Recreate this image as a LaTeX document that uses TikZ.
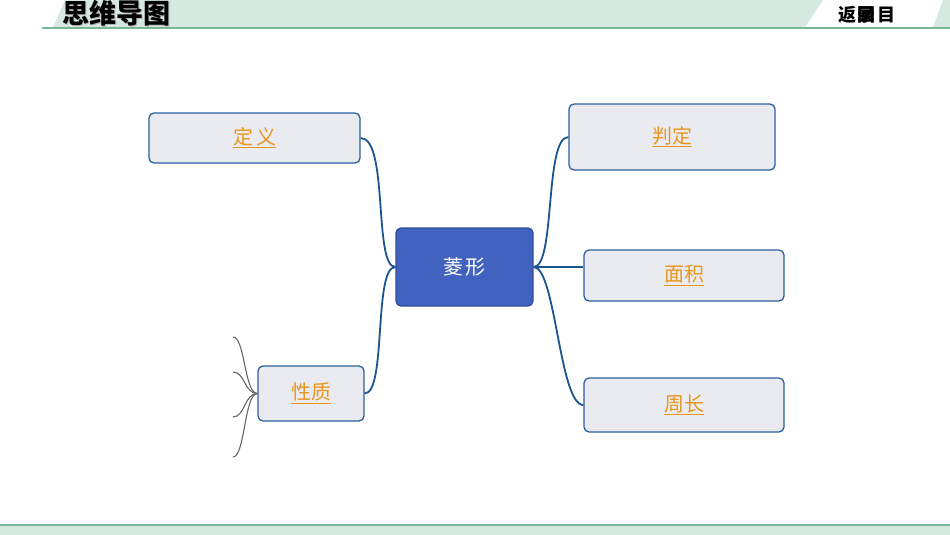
\documentclass[tikz,border=0pt]{standalone}
\usepackage{fontspec}
\newfontfamily\cjk{Noto Sans CJK SC}
\definecolor{hdr}{HTML}{D5E9E0}
\definecolor{hdrline}{HTML}{78B697}
\definecolor{boxfill}{HTML}{EAEBF1}
\definecolor{boxline}{HTML}{2A5F9C}
\definecolor{ctrfill}{HTML}{4262BF}
\definecolor{ctrline}{HTML}{2D4E9C}
\definecolor{conn}{HTML}{1B5590}
\definecolor{ortext}{HTML}{E8961C}
\definecolor{bracec}{HTML}{666666}
\newcommand\myul[1]{\setbox0\hbox{#1}\leavevmode\rlap{\color{ortext}\rule[-4pt]{\wd0}{1.2pt}}\box0}
\tikzset{
  topic/.style={draw=boxline, line width=1.3pt, fill=boxfill, rounded corners=5pt,
    inner sep=0pt, text=ortext, font=\cjk\fontsize{20}{24}\selectfont},
  center/.style={draw=ctrline, line width=1.3pt, fill=ctrfill, rounded corners=5pt,
    inner sep=0pt, text=white, font=\cjk\fontsize{20}{24}\selectfont},
  link/.style={draw=conn, line width=1.8pt},
  bracel/.style={draw=bracec, line width=1.1pt},
  hdrtext/.style={font=\cjk\bfseries\fontsize{18}{20}\selectfont, inner sep=0pt}
}
\begin{document}
\begin{tikzpicture}[x=1pt,y=-1pt]
\useasboundingbox (0,0) rectangle (950,535);
% header
\fill[hdr] (53,27) -- (65,0) -- (823,0) -- (805,27) -- cycle;
\fill[hdr] (933,27) -- (943,0) -- (950,0) -- (950,27) -- cycle;
\draw[hdrline, line width=2pt] (42,28.5) -- (950,28.5);
\node[font=\cjk\bfseries\fontsize{27}{29}\selectfont, text=gray!60, inner sep=0pt] (titsh) at (117.5,14) {思维导图};
\node[font=\cjk\bfseries\fontsize{27}{29}\selectfont, inner sep=0pt] (tit) at (116,13) {思维导图};
\node[hdrtext] (r1) at (847,15) {返};
\node[hdrtext] (r2) at (866,15) {回};
\node[hdrtext] (r3) at (866,15) {录};
\node[hdrtext] (r4) at (886,15) {目};
% footer
\fill[hdr] (0,525) rectangle (950,535);
\draw[hdrline, line width=2pt] (0,524.5) -- (950,524.5);
% nodes
\node[topic, minimum width=211pt, minimum height=50pt] (dy) at (254.5,138) {\myul{定\hspace{3pt}义}};
\node[topic, minimum width=206pt, minimum height=66pt] (pd) at (672,137) {\myul{判定}};
\node[center, minimum width=137pt, minimum height=78pt] (lx) at (464.5,267) {菱\hspace{2pt}形};
\node[topic, minimum width=200pt, minimum height=51pt] (mj) at (684,275.5) {\myul{面积}};
\node[topic, minimum width=200pt, minimum height=54pt] (zc) at (684,405) {\myul{周长}};
\node[topic, minimum width=106pt, minimum height=55pt] (xz) at (311,393.5) {\myul{性质}};
% connectors
\draw[link] (dy.east) .. controls +(28,0) and +(-22,0) .. (lx.west);
\draw[link] (xz.east) .. controls +(22,0) and +(-22,0) .. (lx.west);
\draw[link] (lx.east) .. controls +(22,0) and +(-24,0) .. (pd.west);
\draw[link] (lx.east) -- (lx.east -| mj.west);
\draw[link] (lx.east) .. controls +(22,0) and +(-24,0) .. (zc.west);
% brace
\coordinate (b1) at (233,337);
\coordinate (b2) at (233,372);
\coordinate (b3) at (233,417);
\coordinate (b4) at (233,457);
\draw[bracel] (xz.west) .. controls +(-13,0) and +(12,0) .. (b1);
\draw[bracel] (xz.west) .. controls +(-13,0) and +(12,0) .. (b2);
\draw[bracel] (xz.west) .. controls +(-13,0) and +(12,0) .. (b3);
\draw[bracel] (xz.west) .. controls +(-13,0) and +(12,0) .. (b4);
\end{tikzpicture}
\end{document}
